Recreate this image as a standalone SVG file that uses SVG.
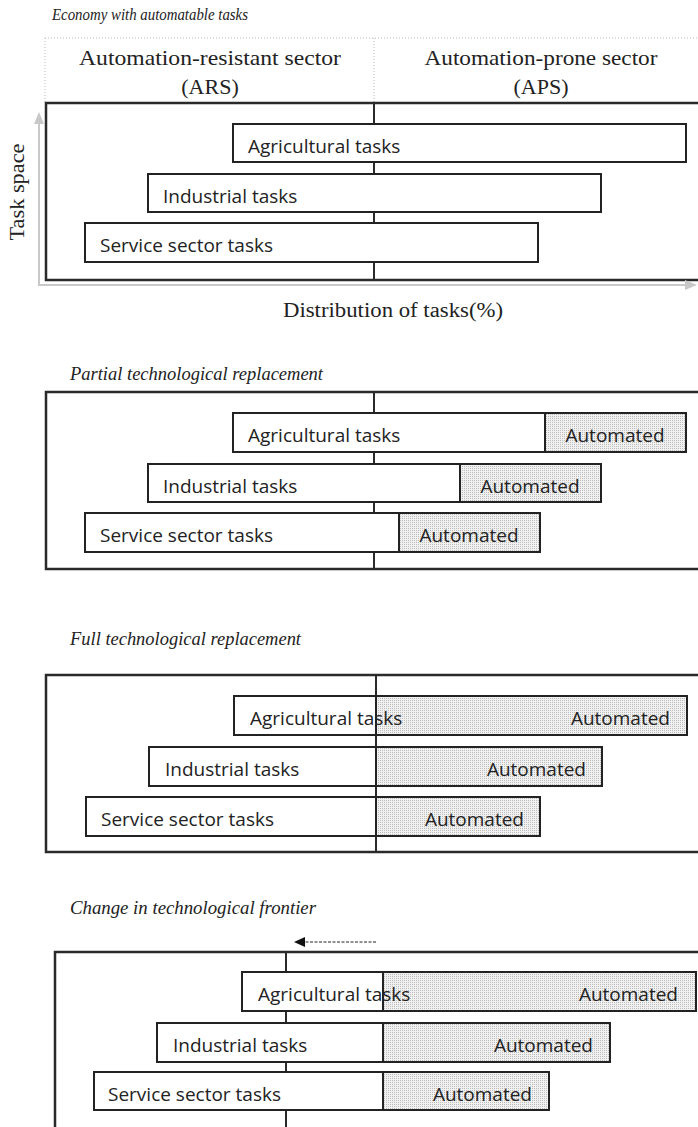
<svg xmlns="http://www.w3.org/2000/svg" width="698" height="1127" viewBox="0 0 698 1127">
<defs>
<pattern id="dots" width="2" height="2" patternUnits="userSpaceOnUse">
<rect width="2" height="2" fill="#f1f1f1"/>
<rect width="1" height="1" fill="#bcbcbc"/>
</pattern>
</defs>
<style>
.title{font-family:"Liberation Serif",serif;font-style:italic;font-size:18px;fill:#222}
.hdr{font-family:"Liberation Serif",serif;font-size:22px;fill:#222}
.lbl{font-family:"Open Sans",sans-serif;font-size:19px;fill:#222}
.frame{fill:none;stroke:#2a2a2a;stroke-width:2.5}
.div{stroke:#2a2a2a;stroke-width:2}
.box{fill:#fff;stroke:#222;stroke-width:2}
.auto{fill:url(#dots);stroke:#222;stroke-width:2}
.dot{stroke:#bbb;stroke-width:1;stroke-dasharray:1 2;fill:none}
.axis{stroke:#c8c8c8;stroke-width:2;fill:none}
</style>
<rect width="698" height="1127" fill="#fff"/>

<!-- Panel 1 -->
<g id="panel1">
<text class="title" x="52" y="20" textLength="196" lengthAdjust="spacingAndGlyphs" style="font-size:17px">Economy with automatable tasks</text>
<path class="dot" d="M45,38 H698 M45,38 V103 M374,38 V103"/>
<text class="hdr" x="210" y="65" text-anchor="middle" textLength="262" lengthAdjust="spacingAndGlyphs">Automation-resistant sector</text>
<text class="hdr" x="210" y="94" text-anchor="middle">(ARS)</text>
<text class="hdr" x="541" y="65" text-anchor="middle" textLength="233" lengthAdjust="spacingAndGlyphs">Automation-prone sector</text>
<text class="hdr" x="541" y="94" text-anchor="middle">(APS)</text>
<rect class="frame" x="46" y="103" width="700" height="177"/>
<line class="div" x1="374" y1="103" x2="374" y2="280"/>
<text class="hdr" transform="translate(24,192) rotate(-90)" text-anchor="middle" style="font-size:20px" textLength="97" lengthAdjust="spacingAndGlyphs">Task space</text>
<text class="hdr" x="393" y="317" text-anchor="middle" style="font-size:20px" textLength="220" lengthAdjust="spacingAndGlyphs">Distribution of tasks(%)</text>
</g>
<g id="p1-agricultural">
<rect class="box" x="233" y="124" width="453" height="38"/>
<text class="lbl" x="248" y="153">Agricultural tasks</text>
</g>
<g id="p1-industrial">
<rect class="box" x="148" y="174" width="453" height="38"/>
<text class="lbl" x="163" y="203">Industrial tasks</text>
</g>
<g id="p1-service">
<rect class="box" x="85" y="223" width="453" height="39"/>
<text class="lbl" x="100" y="252">Service sector tasks</text>
</g>

<!-- Panel 2 -->
<g id="panel2">
<text class="title" x="70" y="380" textLength="253" lengthAdjust="spacingAndGlyphs">Partial technological replacement</text>
<rect class="frame" x="46" y="392" width="700" height="177"/>
<line class="div" x1="374" y1="392" x2="374" y2="569"/>
</g>
<g id="p2-agricultural">
<rect class="box" x="233" y="413" width="453" height="39"/>
<rect class="auto" x="545" y="413" width="141" height="39"/>
<text class="lbl" x="248" y="442">Agricultural tasks</text>
<text class="lbl" x="615" y="442" text-anchor="middle">Automated</text>
</g>
<g id="p2-industrial">
<rect class="box" x="148" y="464" width="453" height="38"/>
<rect class="auto" x="460" y="464" width="141" height="38"/>
<text class="lbl" x="163" y="493">Industrial tasks</text>
<text class="lbl" x="530" y="493" text-anchor="middle">Automated</text>
</g>
<g id="p2-service">
<rect class="box" x="85" y="513" width="455" height="39"/>
<rect class="auto" x="399" y="513" width="141" height="39"/>
<text class="lbl" x="100" y="542">Service sector tasks</text>
<text class="lbl" x="469" y="542" text-anchor="middle">Automated</text>
</g>

<!-- Panel 3 -->
<g id="panel3">
<text class="title" x="70" y="645" textLength="231" lengthAdjust="spacingAndGlyphs">Full technological replacement</text>
<rect class="frame" x="46" y="675" width="700" height="177"/>
<line class="div" x1="376" y1="675" x2="376" y2="852"/>
</g>
<g id="p3-agricultural">
<rect class="box" x="234" y="696" width="453" height="39"/>
<rect class="auto" x="376" y="696" width="311" height="39"/>
<text class="lbl" x="250" y="725">Agricultural tasks</text>
<text class="lbl" x="670" y="725" text-anchor="end">Automated</text>
</g>
<g id="p3-industrial">
<rect class="box" x="149" y="747" width="453" height="39"/>
<rect class="auto" x="376" y="747" width="226" height="39"/>
<text class="lbl" x="165" y="776">Industrial tasks</text>
<text class="lbl" x="586" y="776" text-anchor="end">Automated</text>
</g>
<g id="p3-service">
<rect class="box" x="86" y="797" width="454" height="39"/>
<rect class="auto" x="376" y="797" width="164" height="39"/>
<text class="lbl" x="101" y="826">Service sector tasks</text>
<text class="lbl" x="524" y="826" text-anchor="end">Automated</text>
</g>

<!-- Panel 4 -->
<g id="panel4">
<text class="title" x="70" y="914" textLength="246" lengthAdjust="spacingAndGlyphs">Change in technological frontier</text>
<path class="frame" d="M55,1130 V952 H700"/>
<line class="div" x1="286" y1="952" x2="286" y2="1127"/>
</g>
<g id="p4-agricultural">
<rect class="box" x="242" y="972" width="454" height="39"/>
<rect class="auto" x="383" y="972" width="313" height="39"/>
<text class="lbl" x="258" y="1001">Agricultural tasks</text>
<text class="lbl" x="678" y="1001" text-anchor="end">Automated</text>
</g>
<g id="p4-industrial">
<rect class="box" x="157" y="1023" width="453" height="39"/>
<rect class="auto" x="383" y="1023" width="227" height="39"/>
<text class="lbl" x="173" y="1052">Industrial tasks</text>
<text class="lbl" x="593" y="1052" text-anchor="end">Automated</text>
</g>
<g id="p4-service">
<rect class="box" x="94" y="1072" width="455" height="38"/>
<rect class="auto" x="383" y="1072" width="166" height="38"/>
<text class="lbl" x="108" y="1101">Service sector tasks</text>
<text class="lbl" x="532" y="1101" text-anchor="end">Automated</text>
</g>

<!-- Connectors -->
<g id="connectors">
<line class="axis" x1="39" y1="123" x2="39" y2="285"/>
<polygon points="39,112 34,124 44,124" fill="#c8c8c8"/>
<line class="axis" x1="38" y1="285" x2="686" y2="285"/>
<polygon points="697,285 685,280 685,290" fill="#c8c8c8"/>
<line x1="376" y1="942" x2="303" y2="942" stroke="#222" stroke-width="1" stroke-dasharray="3 1.5"/>
<polygon points="294,942 305,937 305,947" fill="#111"/>
</g>
</svg>
